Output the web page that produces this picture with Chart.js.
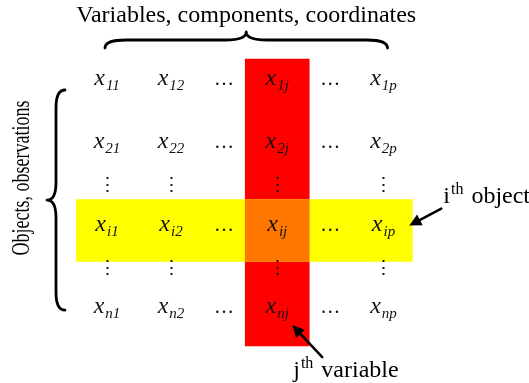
<!DOCTYPE html>
<html>
<head>
<meta charset="utf-8">
<title>Data matrix</title>
<script src="https://cdn.jsdelivr.net/npm/chart.js@4.4.1/dist/chart.umd.min.js"></script>
<style>
  html, body { margin: 0; padding: 0; background: #fff; }
  #wrap { width: 529px; height: 383px; }
</style>
</head>
<body>
<div id="wrap"><canvas id="matrix"></canvas></div>
<script>
// data matrix: rows are objects, columns are variables
const colLabels = ['1', '2', '…', 'j', '…', 'p'];
const rowLabels = ['1', '2', '⋮', 'i', '⋮', 'n'];
const markedRow = 'i';
const markedCol = 'j';
const cellSymbol = 'x';
const topTitle = 'Variables, components, coordinates';
const sideTitle = 'Objects, observations';
const rowNote = ['i', 'th', ' object'];
const colNote = ['j', 'th', ' variable'];

// layout: one full step between plain rows/cols, shorter step next to the dots
const COL_PX = 64, ROW_PX = 63;
const DOTS_COL_STEP = 0.83, DOTS_ROW_STEP = 0.655;
const SERIF = '"Liberation Serif", "Times New Roman", serif';

function isDots(s) {
  return s === '…' || s === '⋮';
}

function steps(labels, dotsStep) {
  const pos = [0];
  for (let k = 1; k < labels.length; k++) {
    const g = (isDots(labels[k]) || isDots(labels[k - 1])) ? dotsStep : 1;
    pos.push(pos[k - 1] + g);
  }
  return pos;
}

const colPos = steps(colLabels, DOTS_COL_STEP);
const rowPos = steps(rowLabels, DOTS_ROW_STEP);
const iRow = rowLabels.indexOf(markedRow);
const jCol = colLabels.indexOf(markedCol);
const firstCol = colPos[0], lastCol = colPos[colPos.length - 1];
const firstRow = rowPos[0], lastRow = rowPos[rowPos.length - 1];

// brace: map(a, c) turns (along, across) into canvas pixels
function drawBrace(ctx, map, len, depth) {
  const r = Math.min(len * 0.08, depth * 1.3);
  const mid = depth * 0.5;
  const pt = (a, c) => map(a, c);
  ctx.beginPath();
  for (const side of [0, 1]) {
    const a = t => side ? len - t : t;
    let p = pt(a(0), 0);
    ctx.moveTo(p[0], p[1]);
    let c1 = pt(a(0), mid), e1 = pt(a(r), mid);
    ctx.quadraticCurveTo(c1[0], c1[1], e1[0], e1[1]);
    p = pt(a(len / 2 - r), mid);
    ctx.lineTo(p[0], p[1]);
    c1 = pt(a(len / 2), mid);
    e1 = pt(a(len / 2), depth);
    ctx.quadraticCurveTo(c1[0], c1[1], e1[0], e1[1]);
  }
  ctx.lineWidth = 2.8;
  ctx.lineCap = 'round';
  ctx.strokeStyle = '#000';
  ctx.stroke();
}

function drawArrow(ctx, x0, y0, x1, y1) {
  const ang = Math.atan2(y1 - y0, x1 - x0);
  const head = 12, half = 6;
  ctx.strokeStyle = '#000';
  ctx.fillStyle = '#000';
  ctx.lineWidth = 2.5;
  ctx.beginPath();
  ctx.moveTo(x0, y0);
  ctx.lineTo(x1 - Math.cos(ang) * head * 0.8, y1 - Math.sin(ang) * head * 0.8);
  ctx.stroke();
  ctx.beginPath();
  ctx.moveTo(x1, y1);
  ctx.lineTo(x1 - Math.cos(ang) * head - Math.sin(ang) * half, y1 - Math.sin(ang) * head + Math.cos(ang) * half);
  ctx.lineTo(x1 - Math.cos(ang) * head + Math.sin(ang) * half, y1 - Math.sin(ang) * head - Math.cos(ang) * half);
  ctx.closePath();
  ctx.fill();
}

// text with a raised part, e.g. i + th + object
function drawNote(ctx, parts, x, y) {
  ctx.textAlign = 'left';
  ctx.textBaseline = 'alphabetic';
  ctx.font = '24px ' + SERIF;
  ctx.fillText(parts[0], x, y);
  let cx = x + ctx.measureText(parts[0]).width;
  ctx.font = '16px ' + SERIF;
  ctx.fillText(parts[1], cx + 1, y - 9);
  cx += ctx.measureText(parts[1]).width + 3;
  ctx.font = '24px ' + SERIF;
  ctx.fillText(parts[2], cx, y);
}

const matrixText = {
  id: 'matrixText',
  afterDatasetsDraw(chart) {
    const { ctx, scales } = chart;
    const px = v => scales.x.getPixelForValue(v);
    const py = v => scales.y.getPixelForValue(v);
    const shift = 5;
    ctx.save();
    ctx.fillStyle = '#111';

    rowLabels.forEach((rl, r) => {
      colLabels.forEach((cl, c) => {
        const cx = px(colPos[c]);
        const cy = py(rowPos[r]) - shift;
        if (isDots(rl)) {
          if (isDots(cl)) return;
          ctx.font = '19px "DejaVu Serif", serif';
          ctx.textAlign = 'center';
          ctx.textBaseline = 'middle';
          ctx.fillText('⋮', cx, cy + 2);
        } else if (isDots(cl)) {
          ctx.font = '20px ' + SERIF;
          ctx.textAlign = 'center';
          ctx.textBaseline = 'alphabetic';
          ctx.fillText('…', cx, cy + 5);
        } else {
          const sub = rl + cl;
          ctx.textAlign = 'left';
          ctx.textBaseline = 'alphabetic';
          ctx.font = 'italic 24px ' + SERIF;
          const wMain = ctx.measureText(cellSymbol).width;
          ctx.font = 'italic 15px ' + SERIF;
          const wSub = ctx.measureText(sub).width;
          const x0 = cx - (wMain + wSub + 1) / 2;
          ctx.font = 'italic 24px ' + SERIF;
          ctx.fillText(cellSymbol, x0, cy + 5);
          ctx.font = 'italic 15px ' + SERIF;
          ctx.fillText(sub, x0 + wMain + 1, cy + 10);
        }
      });
    });

    ctx.fillStyle = '#000';
    // top brace and title
    const bx0 = px(firstCol) - 2, bx1 = px(lastCol) + 4;
    const by = py(firstRow) - 37;
    drawBrace(ctx, (a, c) => [bx0 + a, by - c], bx1 - bx0, 16);
    ctx.font = '24px ' + SERIF;
    ctx.textAlign = 'center';
    ctx.textBaseline = 'alphabetic';
    ctx.fillText(topTitle, (bx0 + bx1) / 2, by - 26);

    // left brace and side title
    const lx = px(firstCol) - 42;
    const ly0 = py(firstRow) + 5, ly1 = py(lastRow) - 3;
    drawBrace(ctx, (a, c) => [lx - c, ly0 + a], ly1 - ly0, 18);
    ctx.save();
    ctx.translate(23, (ly0 + ly1) / 2 - 22);
    ctx.rotate(-Math.PI / 2);
    ctx.scale(1, 1.35);
    ctx.font = '18px ' + SERIF;
    ctx.textAlign = 'center';
    ctx.textBaseline = 'middle';
    ctx.fillText(sideTitle, 0, 0);
    ctx.restore();

    // i-th object note
    const rowRight = px(lastCol + 0.45);
    const rowMid = py(rowPos[iRow]) - shift;
    drawArrow(ctx, rowRight + 29, rowMid - 17, rowRight - 3, rowMid);
    drawNote(ctx, rowNote, rowRight + 31, rowMid - 23);

    // j-th variable note
    const colMid = px(colPos[jCol]);
    const lastMid = py(lastRow) - shift;
    drawArrow(ctx, colMid + 45, lastMid + 49, colMid + 15, lastMid + 17);
    drawNote(ctx, colNote, colMid + 16, lastMid + 69);
    ctx.restore();
  }
};

const ctx = document.getElementById('matrix').getContext('2d');
new Chart(ctx, {
  type: 'bar',
  data: {
    datasets: [
      {
        label: 'x_' + markedRow + markedCol,
        data: [{ x: colPos[jCol], y: [rowPos[iRow] - 0.492, rowPos[iRow] + 0.492] }],
        backgroundColor: '#FF7700',
        barThickness: COL_PX,
        grouped: false
      },
      {
        label: markedRow + 'th object',
        indexAxis: 'y',
        data: [{ y: rowPos[iRow], x: [firstCol - 0.48, lastCol + 0.45] }],
        backgroundColor: '#FFFF00',
        barThickness: 62,
        grouped: false
      },
      {
        label: markedCol + 'th variable',
        data: [{ x: colPos[jCol], y: [firstRow - 0.41, lastRow + 0.52] }],
        backgroundColor: '#FF0000',
        barThickness: COL_PX,
        grouped: false
      }
    ]
  },
  options: {
    responsive: true,
    maintainAspectRatio: false,
    animation: false,
    layout: { padding: 0 },
    plugins: {
      legend: { display: false },
      tooltip: { enabled: false }
    },
    events: [],
    scales: {
      x: {
        type: 'linear',
        display: false,
        offset: false,
        bounds: 'data',
        min: -107 / COL_PX,
        max: -107 / COL_PX + 529 / COL_PX
      },
      y: {
        type: 'linear',
        display: false,
        offset: false,
        reverse: true,
        bounds: 'data',
        min: -85 / ROW_PX,
        max: -85 / ROW_PX + 383 / ROW_PX
      }
    }
  },
  plugins: [matrixText]
});
</script>
</body>
</html>
